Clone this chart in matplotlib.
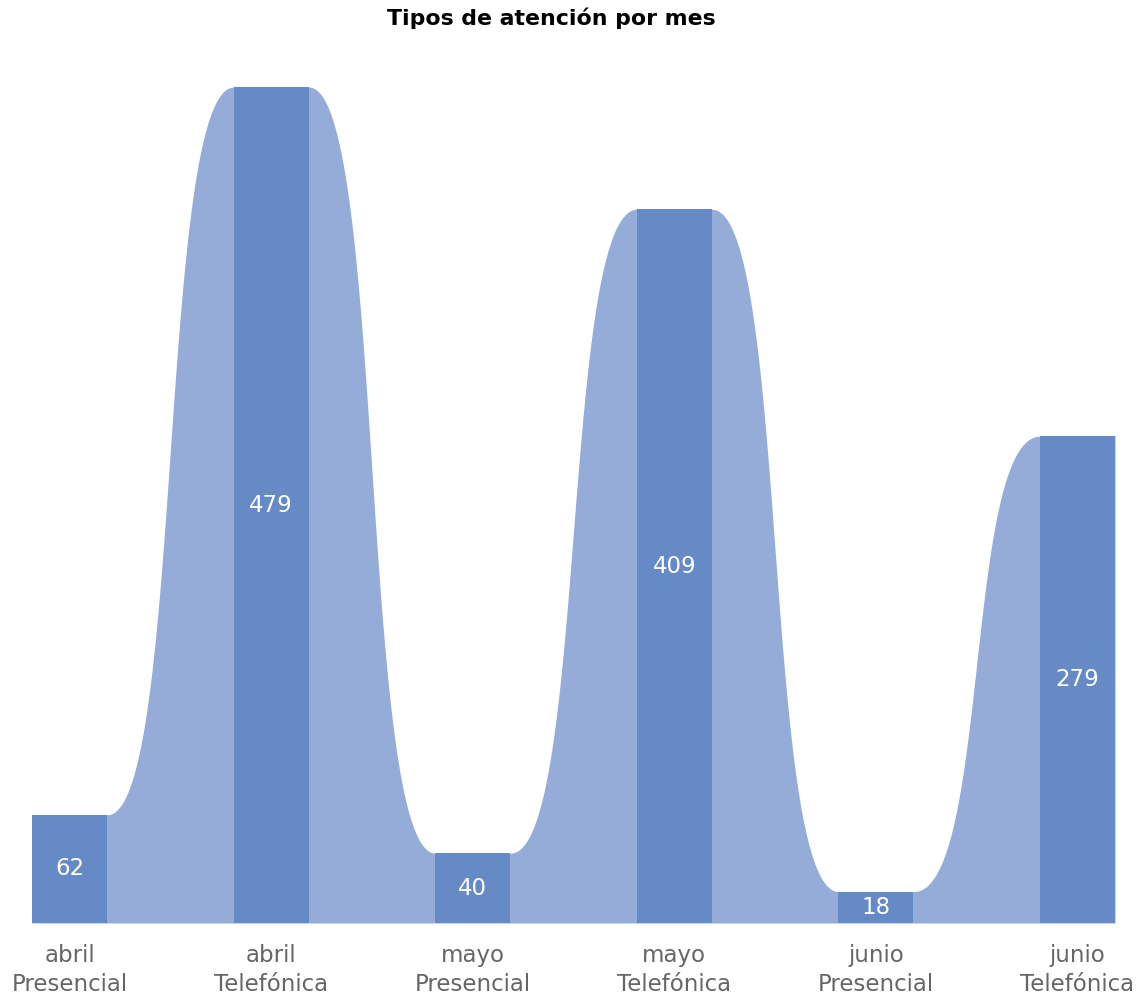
import numpy as np
import matplotlib
matplotlib.use("Agg")
import matplotlib.pyplot as plt

# data
months = ["abril", "abril", "mayo", "mayo", "junio", "junio"]
tipos = ["Presencial", "Telefónica", "Presencial", "Telefónica", "Presencial", "Telefónica"]
valores = [62, 479, 40, 409, 18, 279]

BAR_COLOR = "#668ac6"
FILL_COLOR = "#94acd7"
BAR_W = 0.372
K = 0.6  # how far the curve handles reach into the gap

fig = plt.figure(figsize=(11.46, 10), dpi=100)
ax = fig.add_axes([32 / 1146, 0.077, (1115 - 32) / 1146, 0.8726])

x = np.arange(len(valores))

# smooth band joining the tops of the columns
xs, ys = [], []
t = np.linspace(0, 1, 120)
for i in range(len(valores)):
    xs += [x[i] - BAR_W / 2, x[i] + BAR_W / 2]
    ys += [valores[i], valores[i]]
    if i < len(valores) - 1:
        x0, x1 = x[i] + BAR_W / 2, x[i + 1] - BAR_W / 2
        y0, y1 = valores[i], valores[i + 1]
        d = x1 - x0
        c1, c2 = x0 + K * d, x1 - K * d
        bx = x0 * (1 - t) ** 3 + 3 * c1 * (1 - t) ** 2 * t + 3 * c2 * (1 - t) * t ** 2 + x1 * t ** 3
        by = y0 * (1 - t) ** 3 + 3 * y0 * (1 - t) ** 2 * t + 3 * y1 * (1 - t) * t ** 2 + y1 * t ** 3
        xs += list(bx)
        ys += list(by)
ax.fill_between(xs, 0, ys, color=FILL_COLOR, linewidth=0, zorder=1)

ax.bar(x, valores, width=BAR_W, color=BAR_COLOR, zorder=2)
for xi, v in zip(x, valores):
    ax.text(xi, v / 2, str(v), ha="center", va="center", color="white", fontsize=16.5, zorder=3)

ax.set_xlim(-BAR_W / 2, len(valores) - 1 + BAR_W / 2)
ax.set_ylim(0, 500)
ax.set_xticks(x)
ax.set_xticklabels([f"{m}\n{tp}" for m, tp in zip(months, tipos)], color="#666666", fontsize=16.5,
                   linespacing=1.32)
ax.tick_params(axis="x", length=0, pad=15)
ax.set_yticks([])
for s in ax.spines.values():
    s.set_visible(False)

fig.text(551 / 1146, 1 - 18 / 1000, "Tipos de atención por mes", ha="center", va="center",
         fontsize=15.8, fontweight="bold", color="black")

fig.savefig("out.png", dpi=100)
